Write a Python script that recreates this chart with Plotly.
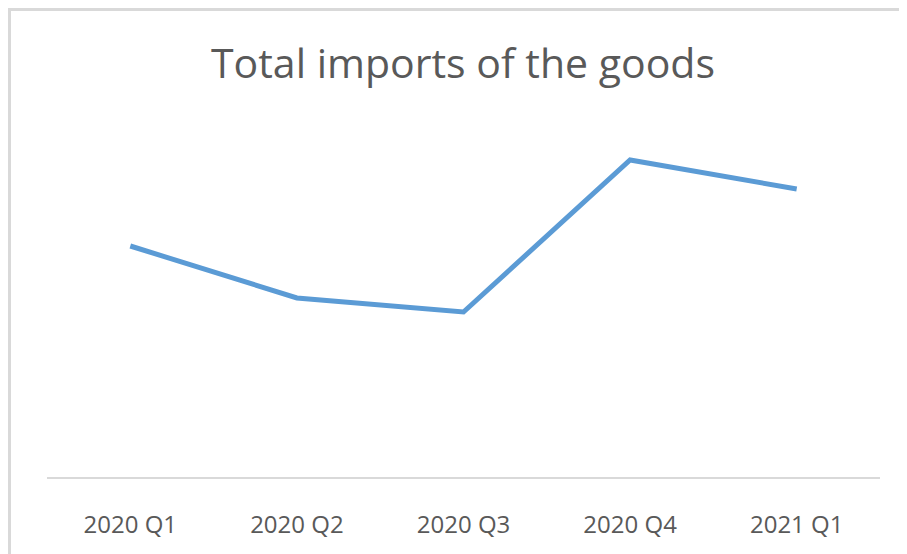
import plotly.graph_objects as go

categories = ["2020 Q1", "2020 Q2", "2020 Q3", "2020 Q4", "2021 Q1"]
imports = [231, 179, 165, 317, 288]

# page body has an 8px margin, so figure coords = screen coords - 8
W, H = 899, 546
L, R, T, B = 39, 27, 119, 77
ymax = 350

fig = go.Figure()
fig.add_trace(go.Scatter(
    x=categories, y=imports, mode="lines",
    line=dict(color="#5B9BD5", width=5, shape="linear"),
    hoverinfo="x+y",
))

pw = W - L - R
ph = H - T - B
fig.add_shape(type="rect", xref="paper", yref="paper",
              x0=(1.5 - L) / pw, x1=(W + 20 - L) / pw,
              y0=-(H + 20 - (H - B)) / ph, y1=((H - B) - 1.5) / ph,
              line=dict(color="#D9D9D9", width=3), fillcolor="rgba(0,0,0,0)",
              layer="below")

fig.update_layout(
    width=W, height=H,
    margin=dict(l=L, r=R, t=T, b=B),
    paper_bgcolor="white", plot_bgcolor="white",
    showlegend=False,
    title=dict(text="Total imports of the goods", x=455 / W, xanchor="center",
               y=1 - 56 / H, yanchor="middle",
               font=dict(family="Open Sans", size=41, color="#595959")),
    xaxis=dict(range=[-0.5, 4.5], showgrid=False, zeroline=False,
               showline=True, linecolor="#D9D9D9", linewidth=1.5,
               ticks="", ticklabelstandoff=25,
               tickfont=dict(family="Open Sans", size=24, color="#595959")),
    yaxis=dict(range=[0, ymax], showgrid=False, zeroline=False,
               showticklabels=False, showline=False),
)

fig.write_html("out.html")
